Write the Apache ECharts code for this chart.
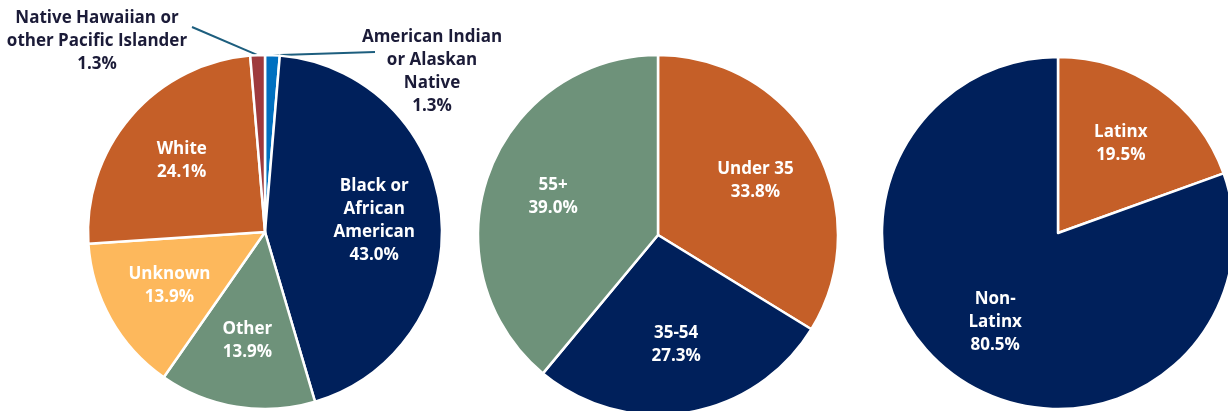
<!DOCTYPE html>
<html>
<head>
<meta charset="utf-8">
<script src="https://cdn.jsdelivr.net/npm/echarts@6/dist/echarts.min.js"></script>
<style>
  html, body { margin: 0; padding: 0; background: #fff; }
  #main { width: 1228px; height: 411px; }
</style>
</head>
<body>
<div id="main"></div>
<script>
// race / ethnicity (clockwise from 12 o'clock)
const raceNames = ['American Indian\nor Alaskan\nNative', 'Black or\nAfrican\nAmerican', 'Other', 'Unknown', 'White', 'Native Hawaiian or\nother Pacific Islander']
const raceValues = [1.3, 43.0, 13.9, 13.9, 24.1, 1.3]
const raceColors = ['#0070C0', '#00205B', '#6E927A', '#FDB85C', '#C55F28', '#9E3A3D']
// age
const ageNames = ['Under 35', '35-54', '55+']
const ageValues = [33.8, 27.3, 39.0]
const ageColors = ['#C55F28', '#00205B', '#6E927A']
// latinx
const latinxNames = ['Latinx', 'Non-\nLatinx']
const latinxValues = [19.5, 80.5]
const latinxColors = ['#C55F28', '#00205B']

// layout of the three pies (px)
const pies = [
  { center: [265, 232], r: 177 },
  { center: [658, 235], r: 180 },
  { center: [1058, 233], r: 176 }
]
// the two thin slices get their label outside, with a leader line
const outsideLabels = {
  0: { x: 432, y: 72, end: [375, 52] },
  5: { x: 97, y: 41, end: [192, 27] }
}

const font = '"Open Sans", "DejaVu Sans", sans-serif'

function buildData (names, values, colors, outside) {
  return names.map(function (n, i) {
    const item = { name: n, value: values[i], itemStyle: { color: colors[i] } }
    if (outside && outside[i]) {
      item.label = {
        position: 'outside',
        color: '#1B1B38'
      }
      item.labelLine = { show: true }
    }
    return item
  })
}

function labelLayout (params) {
  const p = pies[params.seriesIndex]
  if (params.seriesIndex === 0 && outsideLabels[params.dataIndex]) {
    const o = outsideLabels[params.dataIndex]
    const start = params.labelLinePoints ? params.labelLinePoints[0] : p.center
    return {
      x: o.x,
      y: o.y,
      align: 'center',
      verticalAlign: 'middle',
      labelLinePoints: [start, o.end]
    }
  }
  // push inside labels a bit further out than the default half radius
  const r = params.labelRect
  const lx = r.x + r.width / 2
  const ly = r.y + r.height / 2
  return {
    dx: (lx - p.center[0]) * 0.2,
    dy: (ly - p.center[1]) * 0.2
  }
}

function pieSeries (idx, names, values, colors, outside) {
  return {
    type: 'pie',
    center: pies[idx].center,
    radius: [0, pies[idx].r],
    startAngle: 90,
    clockwise: true,
    avoidLabelOverlap: false,
    itemStyle: { borderColor: '#fff', borderWidth: 2.5 },
    label: {
      show: true,
      position: 'inside',
      color: '#fff',
      fontFamily: font,
      fontWeight: 'bold',
      fontSize: 17,
      lineHeight: 23,
      align: 'center',
      formatter: function (d) {
        return d.name + '\n' + d.value.toFixed(1) + '%'
      }
    },
    labelLine: {
      show: false,
      lineStyle: { color: '#1D5E7E', width: 2 }
    },
    emphasis: { disabled: true },
    labelLayout: labelLayout,
    data: buildData(names, values, colors, outside)
  }
}

const myChart = echarts.init(document.getElementById('main'))
myChart.setOption({
  animation: false,
  series: [
    pieSeries(0, raceNames, raceValues, raceColors, outsideLabels),
    pieSeries(1, ageNames, ageValues, ageColors),
    pieSeries(2, latinxNames, latinxValues, latinxColors)
  ]
})
</script>
</body>
</html>
